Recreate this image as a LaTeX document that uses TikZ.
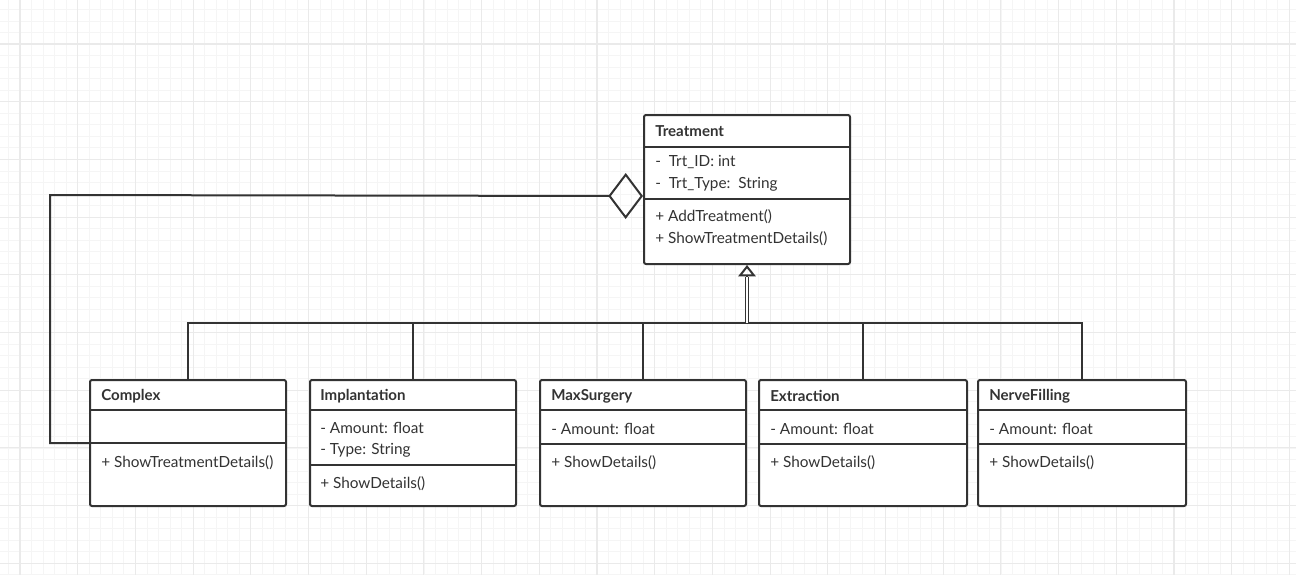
\documentclass[tikz,border=0pt]{standalone}
\usepackage{fontspec}
\setmainfont{Lato}
\usepackage{tikz}
\usetikzlibrary{arrows.meta,positioning,calc}

\definecolor{inkgray}{HTML}{333333}
\definecolor{gridminor}{HTML}{F5F5F5}
\definecolor{gridmajor}{HTML}{EAEAEA}

\tikzset{
  classbox/.style={draw=inkgray, line width=1.5pt, rounded corners=1.5pt, fill=white, anchor=north west, inner sep=0pt},
  classline/.style={draw=inkgray, line width=1.5pt},
  classname/.style={anchor=west, inner sep=0pt, yshift=-0.7pt, text=inkgray, font=\fontsize{11.3}{16}\selectfont\bfseries},
  member/.style={anchor=west, inner sep=0pt, yshift=-1pt, align=left, text=inkgray, font=\fontsize{11.5}{16.3}\selectfont},
  link/.style={draw=inkgray, line width=1.5pt},
  inherit/.style={link, -{Triangle[open, length=8.5pt, width=13pt]}},
  aggreg/.style={link, -{Diamond[open, length=26pt, width=34.5pt]}}
}

% box: name, x, y, width, height, first divider, second divider (px)
\newcommand{\umlclass}[7]{%
  \node[classbox, minimum width=#4*0.75pt, minimum height=#5*0.75pt] (#1) at (#2,#3) {};
  \draw[classline] (#2,#3+#6) -- (#2+#4,#3+#6);
  \draw[classline] (#2,#3+#7) -- (#2+#4,#3+#7);
}

\begin{document}
\begin{tikzpicture}[x=0.75pt, y=-0.75pt]
\useasboundingbox (0,0) rectangle (1296,575);

% grid
\fill[white] (0,0) rectangle (1296,575);
\foreach \i in {0,...,112} \draw[gridminor, line width=0.6pt] ({8.46+\i*11.54},0) -- ++(0,575);
\foreach \i in {0,...,49} \draw[gridminor, line width=0.6pt] (0,{9.38+\i*11.54}) -- ++(1296,0);
\foreach \i in {0,...,22} \draw[gridmajor, line width=0.8pt] ({20+\i*57.7},0) -- ++(0,575);
\foreach \i in {0,...,9} \draw[gridmajor, line width=0.8pt] (0,{44+\i*57.7}) -- ++(1296,0);

% classes
\umlclass{treat}{643}{114}{206}{149}{33}{85}
\node[classname] (treat-n) at (655,130) {Treatment};
\node[member] (treat-a) at (655,172) {-\ \ Trt\_ID: int\\-\ \ Trt\_Type:\ \ String};
\node[member] (treat-o) at (655,226) {+ AddTreatment()\\+ ShowTreatmentDetails()};

\umlclass{cplx}{89}{379}{196}{126}{31}{64}
\node[classname] (cplx-n) at (101,395) {Complex};
\node[member] (cplx-o) at (101,461) {+ ShowTreatmentDetails()};

\umlclass{impl}{309}{379}{206}{126}{31}{86}
\node[classname] (impl-n) at (320,395) {Implantation};
\node[member] (impl-a) at (320,438.5) {- Amount: float\\- Type: String};
\node[member] (impl-o) at (320,482) {+ ShowDetails()};

\umlclass{maxs}{539}{379}{206}{126}{31}{65}
\node[classname] (maxs-n) at (551,395) {MaxSurgery};
\node[member] (maxs-a) at (551,428) {- Amount: float};
\node[member] (maxs-o) at (551,461) {+ ShowDetails()};

\umlclass{extr}{758}{379}{208}{126}{31}{65}
\node[classname] (extr-n) at (770,395) {Extraction};
\node[member] (extr-a) at (770,428) {- Amount: float};
\node[member] (extr-o) at (770,461) {+ ShowDetails()};

\umlclass{nerv}{977}{379}{208}{126}{31}{65}
\node[classname] (nerv-n) at (989,395) {NerveFilling};
\node[member] (nerv-a) at (989,428) {- Amount: float};
\node[member] (nerv-o) at (989,461) {+ ShowDetails()};

% generalization
\path (treat.south) ++(0,58) coordinate (jn);
\foreach \c in {cplx,impl,maxs,extr,nerv}
  \draw[link] (\c.north) |- (jn);
\draw[inherit] (jn) -- (treat.south);
\draw[link, line width=1.3pt, double=white, double distance=1pt, shorten >=9pt] (jn) -- (treat.south);

% aggregation
\coordinate (aggbend) at (50,195);
\draw[aggreg] (cplx.west) -| (aggbend) -- ([yshift=-4.9pt]treat.west);

\end{tikzpicture}
\end{document}
